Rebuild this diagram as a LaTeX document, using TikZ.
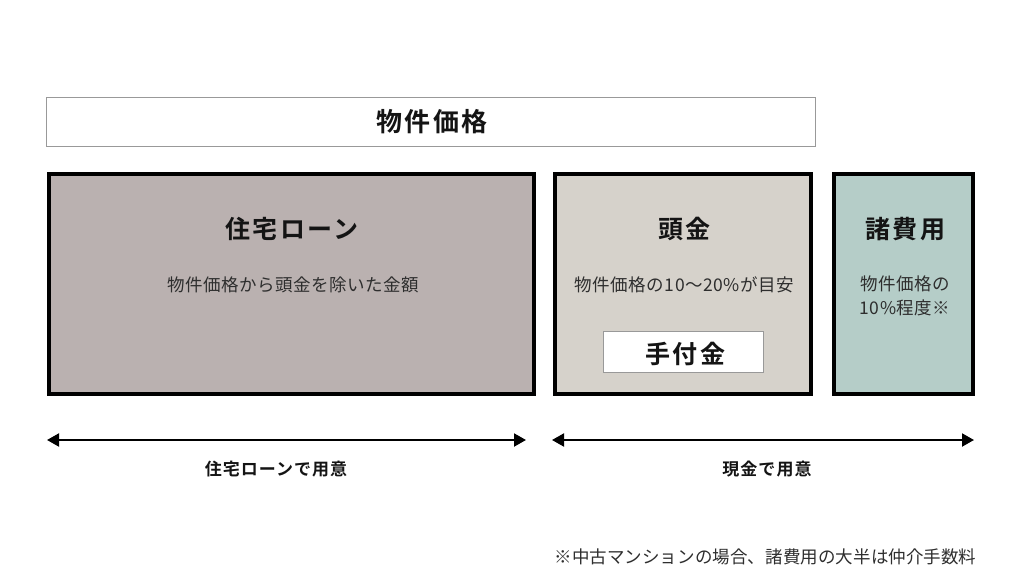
\documentclass[tikz,border=0pt]{standalone}
\usepackage{fontspec}
\setmainfont{Noto Sans CJK JP}
\newfontfamily\jphead[LetterSpace=10]{Noto Sans CJK JP Bold}
\newfontfamily\jptop[LetterSpace=8]{Noto Sans CJK JP Bold}
\newfontfamily\jplabel[LetterSpace=6]{Noto Sans CJK JP Bold}
\newfontfamily\jpbody[LetterSpace=3]{Noto Sans CJK JP}
\newfontfamily\jpnote[LetterSpace=0.5]{Noto Sans CJK JP}
\usetikzlibrary{arrows.meta}
\usetikzlibrary{positioning}
\definecolor{loanfill}{HTML}{BAB1B0}
\definecolor{downfill}{HTML}{D6D2CB}
\definecolor{costfill}{HTML}{B5CDC8}
\definecolor{textgray}{HTML}{2E2E2E}
\definecolor{edgegray}{HTML}{999999}
\tikzset{
  partbox/.style={draw=black, line width=4pt, anchor=north west, inner sep=0pt},
  thinbox/.style={draw=edgegray, line width=1pt, fill=white, anchor=north west, inner sep=0pt},
  headtext/.style={font=\jphead\fontsize{25}{29}\selectfont, text=black!92},
  subtext/.style={font=\jpbody\fontsize{17.5}{24}\selectfont, text=textgray, align=center},
  spantext/.style={font=\jplabel\fontsize{17}{20}\selectfont, text=black!92},
  spanarrow/.style={{Triangle[length=12pt,width=13pt]}-{Triangle[length=12pt,width=13pt]}, line width=2pt},
}
\begin{document}
\begin{tikzpicture}[x=1pt,y=-1pt]
  \useasboundingbox (0,0) rectangle (1024,585);
  % price bar
  \node[thinbox, minimum width=769pt, minimum height=49pt] (price) at (46,97) {};
  \node[headtext, font=\jptop\fontsize{26}{30}\selectfont, xshift=1pt] at (price.center) {物件価格};
  % three parts
  \node[partbox, fill=loanfill, minimum width=485pt, minimum height=220pt] (loan) at (47,172) {};
  \node[partbox, fill=downfill, minimum width=256pt, minimum height=220pt] (down) at (553,172) {};
  \node[partbox, fill=costfill, minimum width=139pt, minimum height=220pt] (cost) at (832,172) {};
  \node[headtext] (loanhead) at (292,229) {住宅ローン};
  \node[subtext] (loansub) at (293,285) {物件価格から頭金を除いた金額};
  \node[headtext] (downhead) at (684.5,229) {頭金};
  \node[subtext] (downsub) at (684.5,285) {物件価格の10〜20\%が目安};
  \node[thinbox, minimum width=160pt, minimum height=41pt] (deposit) at (603,331) {};
  \node[headtext, xshift=1.5pt, yshift=-2pt] at (deposit.center) {手付金};
  \node[headtext] (costhead) at (905,229) {諸費用};
  \node[subtext] (costsub) at (905,296) {物件価格の\\10\%程度※};
  % spans below
  \coordinate (L1) at (47,440);
  \coordinate (L2) at (526,440);
  \coordinate (R1) at (552,440);
  \coordinate (R2) at (974,440);
  \draw[spanarrow] (L1) -- (L2);
  \draw[spanarrow] (R1) -- (R2);
  \node[spantext] (loanspan) at (276,469) {住宅ローンで用意};
  \node[spantext] (cashspan) at (767,469) {現金で用意};
  % note
  \node[subtext, font=\jpnote\fontsize{17.5}{24}\selectfont, anchor=east] (note) at (980,557) {※中古マンションの場合、諸費用の大半は仲介手数料};
\end{tikzpicture}
\end{document}
